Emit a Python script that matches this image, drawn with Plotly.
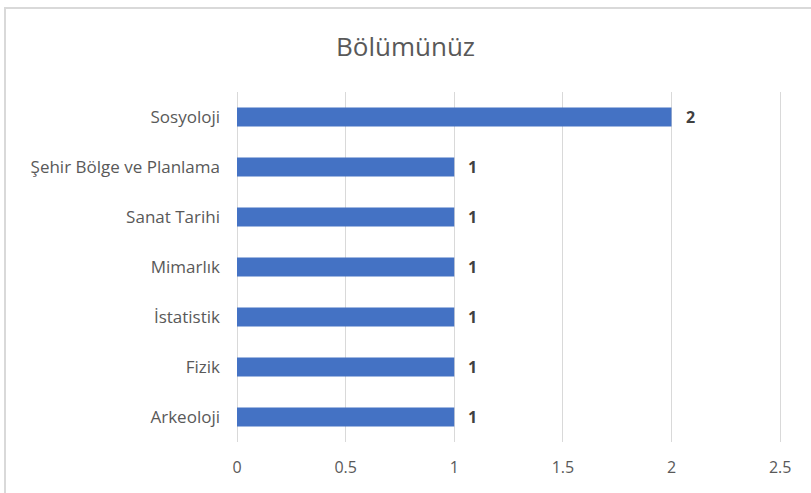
import plotly.graph_objects as go

categories = ["Arkeoloji", "Fizik", "İstatistik", "Mimarlık", "Sanat Tarihi",
              "Şehir Bölge ve Planlama", "Sosyoloji"]
values = [1, 1, 1, 1, 1, 1, 2]
x_ticks = [0, 0.5, 1, 1.5, 2, 2.5]
x_tick_labels = ["0", "0.5", "1", "1.5", "2", "2.5"]
title_text = "Bölümünüz"

FONT = "'Open Sans', Lato, sans-serif"
TXT = "#595959"
GRID = "#D9D9D9"

fig = go.Figure()
fig.add_trace(go.Bar(
    x=values, y=categories, orientation="h",
    marker=dict(color="#4472C4", line=dict(width=0)),
    width=0.38, hoverinfo="skip",
))

for c, v in zip(categories, values):
    fig.add_annotation(x=v, y=c, text=f"<b>{v}</b>", showarrow=False,
                       xanchor="left", xshift=12, yshift=0,
                       font=dict(family=FONT, size=16, color="#404040"))

# plot area: 237 .. 791 px wide for range 0..2.55 (2.5 lands at ~780)
fig.add_shape(type="rect", xref="paper", yref="paper",
              x0=-0.4188, x1=1.05, y0=-0.16, y1=1.24,
              line=dict(color=GRID, width=2), fillcolor="rgba(0,0,0,0)",
              layer="below")

fig.update_layout(
    width=811, height=493,
    margin=dict(l=237, r=20, t=92, b=51, autoexpand=False),
    paper_bgcolor="white", plot_bgcolor="white",
    showlegend=False,
    title=dict(text=title_text, x=0.5, xref="container", xanchor="center",
               y=1 - 47/493, yref="container", yanchor="middle",
               font=dict(family=FONT, size=26, color=TXT)),
    font=dict(family=FONT, size=17, color=TXT),
    xaxis=dict(range=[0, 2.55], tickvals=x_ticks, ticktext=x_tick_labels,
               showgrid=True, gridcolor=GRID, gridwidth=1,
               zeroline=True, zerolinecolor=GRID, zerolinewidth=1,
               showline=False, ticks="", ticklabelstandoff=14,
               tickfont=dict(family=FONT, size=16, color=TXT), fixedrange=True),
    yaxis=dict(showgrid=False, zeroline=False, showline=False, ticks="",
               ticklabelstandoff=16, range=[-0.5, 6.5],
               tickfont=dict(family=FONT, size=17, color=TXT), fixedrange=True),
)

fig.write_html("out.html", config={"displayModeBar": False},
               post_script="document.body.style.margin='0';document.body.style.overflow='hidden';")
